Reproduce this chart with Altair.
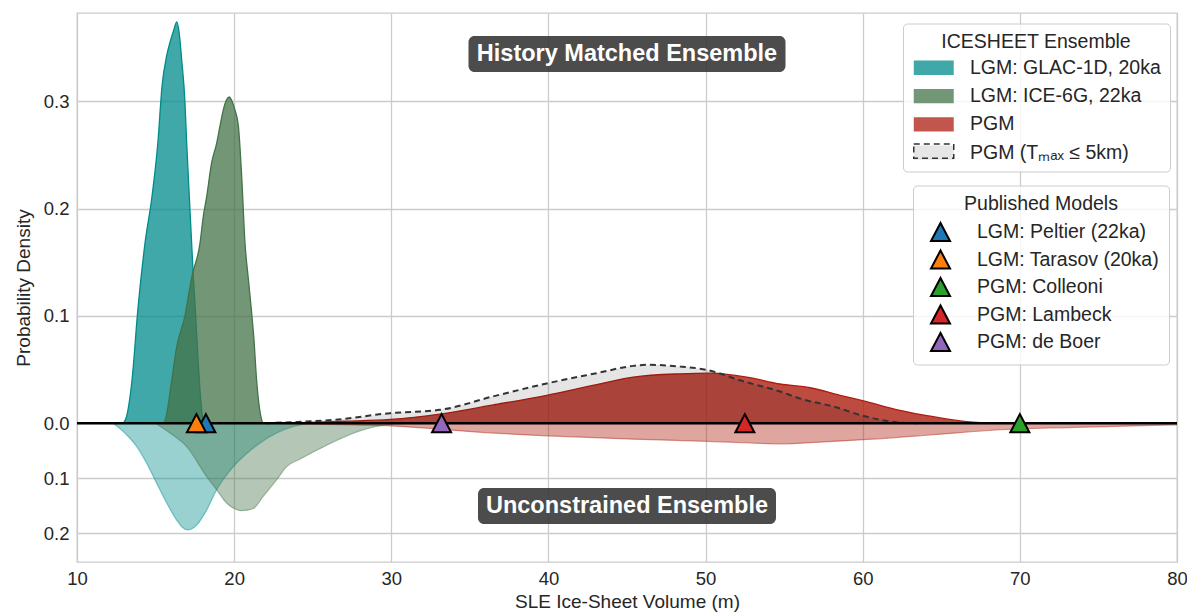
import altair as alt
import pandas as pd

# ---------------- data ----------------
SERIES = ["LGM: GLAC-1D, 20ka", "LGM: ICE-6G, 22ka", "PGM", "PGM (Tₘₐₓ ≤  5km)"]

# History matched ensemble (upper half)
glac_hm_x = [12.95, 13.15, 13.5, 13.88, 14.33, 14.77, 15.15, 15.41, 15.7, 15.92, 16.15, 16.35,
             16.5, 16.66, 16.87, 16.98, 17.19, 17.4, 17.55, 17.7, 17.83, 17.95, 18.05]
glac_hm_d = [0, 0.006, 0.04, 0.107, 0.168, 0.211, 0.262, 0.314, 0.342, 0.355, 0.366, 0.374,
             0.364, 0.339, 0.299, 0.261, 0.199, 0.137, 0.1, 0.06, 0.03, 0.01, 0]

ice_hm_x = [15.55, 15.71, 16.03, 16.34, 16.87, 17.3, 17.83, 18.04, 18.25, 18.57, 18.89, 19.1, 19.31,
            19.5, 19.69, 19.87, 20.05, 20.27, 20.48, 20.69, 20.9, 21.1, 21.25, 21.43, 21.6, 21.8]
ice_hm_d = [0, 0.009, 0.04, 0.071, 0.1, 0.136, 0.168, 0.193, 0.211, 0.243, 0.261, 0.277, 0.292,
            0.301, 0.304, 0.3, 0.292, 0.277, 0.23, 0.168, 0.135, 0.105, 0.08, 0.04, 0.015, 0]

pgm_hm_x = [23.0, 25.0, 27.0, 29.92, 33.1, 36.49, 39.89, 43.07, 45.4, 48.37, 50.28, 52.62,
            54.74, 56.65, 58.55, 60.25, 62.37, 64.5, 66.6, 68.7]
pgm_hm_d = [0, 0.0008, 0.0018, 0.0035, 0.0085, 0.017, 0.026, 0.036, 0.043, 0.046, 0.0466, 0.043,
            0.0365, 0.033, 0.026, 0.02, 0.012, 0.006, 0.0015, 0]

pgm5_x = [22.0, 24.0, 26.3, 29.92, 33.1, 36.49, 39.89, 43.07, 45.4, 46.25, 48.37, 50.05, 52.4,
          54.74, 56.0, 58.13, 60.25, 62.37, 63.5]
pgm5_d = [0, 0.0012, 0.003, 0.0093, 0.0124, 0.025, 0.037, 0.0466, 0.0534, 0.0544, 0.0528, 0.0497,
          0.039, 0.0295, 0.023, 0.0155, 0.006, 0.0006, 0]

# Unconstrained ensemble (lower half, densities as labelled on the lower axis)
glac_un_x = [12.3, 13.16, 13.8, 14.44, 15.07, 15.71, 16.34, 16.7, 17.04, 17.62, 18.25, 18.89,
             19.95, 20.8, 21.65, 22.7, 23.77, 25.0]
glac_un_d = [0, 0.021, 0.0425, 0.073, 0.109, 0.145, 0.176, 0.189, 0.194, 0.185, 0.158, 0.121,
             0.079, 0.055, 0.036, 0.018, 0.006, 0]

ice_un_x = [15.0, 15.92, 16.98, 18.25, 18.89, 19.52, 20.0, 20.48, 21.22, 21.85, 22.7, 23.34,
            24.2, 25.89, 28.0, 30.0, 31.5]
ice_un_d = [0, 0.018, 0.0425, 0.097, 0.121, 0.145, 0.155, 0.159, 0.155, 0.133, 0.103, 0.079,
            0.065, 0.04, 0.014, 0.002, 0]

pgm_un_x = [22.0, 25.0, 29.92, 36.49, 39.89, 45.4, 50.05, 52.83, 54.74, 57.5, 60.04, 64.5,
            68.74, 72.98, 77.2, 80.0]
pgm_un_d = [0, 0.002, 0.005, 0.018, 0.023, 0.029, 0.033, 0.036, 0.0376, 0.034, 0.030, 0.021,
            0.012, 0.008, 0.005, 0.003]

# Published models
model_names = ["LGM: Peltier (22ka)", "LGM: Tarasov (20ka)", "PGM: Colleoni", "PGM: Lambeck", "PGM: de Boer"]
model_x = [18.2, 17.6, 70.0, 52.5, 33.2]
model_colors = ["#1f77b4", "#ff7f0e", "#2ca02c", "#d62728", "#9467bd"]

# Annotation labels
ann_label = ["History Matched Ensemble", "Unconstrained Ensemble"]
ann_x = [45.0, 45.0]
ann_y = [0.344, -0.0771]

# ---------------- styling ----------------
FONT = "Liberation Sans"
FILL = ["#008b8b", "#447348", "#ae1e10", "#dedede"]
STROKE = ["#008b8b", "#447348", "#ae1e10", "#333333"]
LOWER = 0.513  # lower half drawn at this scale

RECT = "M-2.8,-1L2.8,-1L2.8,1L-2.8,1Z"
TRI = "M0,-0.95L-1,0.95L1,0.95Z"

XS = alt.Scale(domain=[10, 80], nice=False, zero=False)
YS = alt.Scale(domain=[-0.1294, 0.3823], nice=False, zero=False)
XAX = alt.Axis(values=[10, 20, 30, 40, 50, 60, 70, 80], format="d", labelPadding=7,
               titlePadding=5, labelFlush=False)
YAX = alt.Axis(values=[-0.2 * LOWER, -0.1 * LOWER, 0, 0.1, 0.2, 0.3],
               labelExpr="datum.value < 0 ? format(-datum.value/%s, '.1f') : format(datum.value, '.1f')" % LOWER,
               labelPadding=8, titlePadding=10, labelFlush=False)
XT = "SLE Ice-Sheet Volume (m)"
YT = "Probability Density"

leg1 = alt.Legend(title="ICESHEET Ensemble", orient="none", legendX=826, legendY=10.5,
                  symbolType=RECT, symbolSize=204, symbolStrokeWidth=1.5, symbolOpacity=0.75,
                  labelFontSize=19.5, titleFontSize=19.5, titleFontWeight="normal",
                  titleAnchor="middle", labelLimit=400, titleLimit=400,
                  symbolOffset=12, labelOffset=26.5,
                  padding=9, rowPadding=7.3, titlePadding=6, zindex=0,
                  fillColor="rgba(255,255,255,0.8)", strokeColor="#cccccc", cornerRadius=4)

# outline-only legend laid over the 4th swatch of leg1 to give it its dashed border
leg_dash = alt.Legend(title=None, orient="none", legendX=835, legendY=128.3,
                      symbolType=RECT, symbolSize=204, symbolStrokeWidth=1.5,
                      symbolStrokeColor="#333333", symbolFillColor="transparent",
                      symbolOffset=12, labelOpacity=0, labelFontSize=19.5, labelLimit=400,
                      labelOffset=26.5, padding=0, rowPadding=0, zindex=2)

leg2 = alt.Legend(title="Published Models", orient="none", legendX=836, legendY=172.5,
                  symbolType=TRI, symbolSize=361, symbolStrokeColor="black", symbolStrokeWidth=2,
                  labelFontSize=19.5, titleFontSize=19.5, titleFontWeight="normal",
                  titleAnchor="middle", labelLimit=400, titleLimit=400,
                  labelOffset=26, symbolOffset=8,
                  padding=9, rowPadding=0.5, titlePadding=7.5,
                  fillColor="rgba(255,255,255,0.8)", strokeColor="#cccccc", cornerRadius=4)


def scale_of(rng):
    return alt.Scale(domain=SERIES, range=rng)


def top_area(xs, ds, name, fop):
    df = pd.DataFrame({"x": xs, "d": ds, "series": name})
    return alt.Chart(df).mark_area(interpolate="monotone", strokeWidth=1.3, fillOpacity=fop,
                                   clip=True).encode(
        x=alt.X("x:Q", scale=XS, axis=XAX, title=XT),
        y=alt.Y("d:Q", stack=None, scale=YS, axis=YAX, title=YT),
        fill=alt.Fill("series:N", scale=scale_of(FILL), legend=leg1),
        stroke=alt.Stroke("series:N", scale=scale_of(STROKE), legend=None),
    )


def bottom_area(xs, ds, name):
    df = pd.DataFrame({"x": xs, "d": ds, "series": name})
    return alt.Chart(df).transform_calculate(yb="-datum.d*%s" % LOWER).mark_area(
        interpolate="monotone", fillOpacity=0.4, strokeOpacity=0.45, strokeWidth=1.2, clip=True
    ).encode(
        x=alt.X("x:Q", scale=XS, axis=XAX, title=XT),
        y=alt.Y("yb:Q", stack=None, scale=YS, axis=YAX, title=YT),
        fill=alt.Fill("series:N", scale=scale_of(FILL), legend=None),
        stroke=alt.Stroke("series:N", scale=scale_of(STROKE), legend=None),
    )


pgm5_df = pd.DataFrame({"x": pgm5_x, "d": pgm5_d, "series": SERIES[3]})
pgm5_fill = alt.Chart(pgm5_df).mark_area(
    interpolate="monotone", fill="black", fillOpacity=0.1, strokeWidth=0, clip=True
).encode(
    x=alt.X("x:Q", scale=XS, axis=XAX, title=XT),
    y=alt.Y("d:Q", stack=None, scale=YS, axis=YAX, title=YT),
)
pgm5_line = alt.Chart(pgm5_df).mark_line(
    interpolate="monotone", color="#333333", strokeWidth=2, clip=True
).encode(
    x=alt.X("x:Q", scale=XS, axis=XAX, title=XT),
    y=alt.Y("d:Q", scale=YS, axis=YAX, title=YT),
    strokeDash=alt.StrokeDash("series:N", scale=alt.Scale(domain=[SERIES[3]], range=[[6, 4]]),
                              legend=leg_dash),
)

areas = alt.layer(
    top_area(glac_hm_x, glac_hm_d, SERIES[0], 0.75),
    top_area(ice_hm_x, ice_hm_d, SERIES[1], 0.75),
    top_area(pgm_hm_x, pgm_hm_d, SERIES[2], 0.8),
    pgm5_fill,
    bottom_area(glac_un_x, glac_un_d, SERIES[0]),
    bottom_area(ice_un_x, ice_un_d, SERIES[1]),
    bottom_area(pgm_un_x, pgm_un_d, SERIES[2]),
)

zero = alt.Chart(pd.DataFrame({"z": [0]})).mark_rule(color="black", strokeWidth=2.5).encode(
    y=alt.Y("z:Q", scale=YS, axis=YAX, title=YT)
)

models = pd.DataFrame({"model": model_names, "x": model_x})
points = alt.Chart(models).mark_point(
    shape=TRI, filled=True, size=361, stroke="black", strokeWidth=2, opacity=1
).encode(
    x=alt.X("x:Q", scale=XS, axis=XAX, title=XT),
    y=alt.Y(datum=0, scale=YS, axis=YAX, title=YT),
    fill=alt.Fill("model:N", scale=alt.Scale(domain=model_names, range=model_colors), legend=leg2),
)

ann = pd.DataFrame({"label": ann_label, "x": ann_x, "y": ann_y})
box1 = alt.Chart(ann).transform_filter(alt.datum.label == ann_label[0]).mark_rect(
    xOffset=-158.5, x2Offset=158.5, yOffset=-18, y2Offset=18, cornerRadius=6,
    color="#333333", opacity=0.88
).encode(x="x:Q", x2="x:Q", y="y:Q", y2="y:Q")
box2 = alt.Chart(ann).transform_filter(alt.datum.label == ann_label[1]).mark_rect(
    xOffset=-149, x2Offset=149, yOffset=-18, y2Offset=18, cornerRadius=6,
    color="#333333", opacity=0.88
).encode(x="x:Q", x2="x:Q", y="y:Q", y2="y:Q")
texts = alt.Chart(ann).mark_text(
    color="white", fontWeight="bold", fontSize=23.5, align="center", baseline="middle", font=FONT
).encode(x="x:Q", y="y:Q", text="label:N")

chart = alt.layer(areas, pgm5_line, zero, points, box1, box2, texts).resolve_scale(
    fill="independent"
).properties(
    width=1100, height=549,
    autosize=alt.AutoSizeParams(type="none"),
    padding={"left": 69, "top": 5, "right": 10, "bottom": 50},
).configure(font=FONT).configure_view(
    stroke="#cccccc", strokeWidth=1.3
).configure_axis(
    domain=False, ticks=False, grid=True, gridColor="#cccccc", gridWidth=1.3,
    labelFontSize=18.5, titleFontSize=19, labelColor="#262626", titleColor="#262626",
    titleFontWeight="normal", labelFont=FONT, titleFont=FONT
).configure_legend(
    labelColor="#262626", titleColor="#262626", labelFont=FONT, titleFont=FONT
)

chart.save("out.html", embed_options={"renderer": "svg", "actions": False})
